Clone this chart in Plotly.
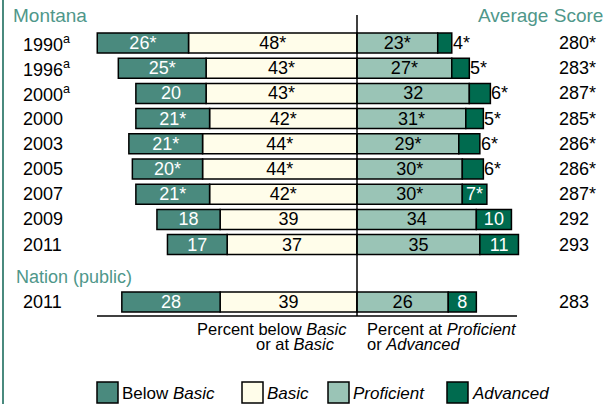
import plotly.graph_objects as go

# ---------------- data ----------------
years = ["1990<sup>a</sup>", "1996<sup>a</sup>", "2000<sup>a</sup>", "2000", "2003",
         "2005", "2007", "2009", "2011"]
below_basic = [26, 25, 20, 21, 21, 20, 21, 18, 17]
below_basic_lbl = ["26*", "25*", "20", "21*", "21*", "20*", "21*", "18", "17"]
basic = [48, 43, 43, 42, 44, 44, 42, 39, 37]
basic_lbl = ["48*", "43*", "43*", "42*", "44*", "44*", "42*", "39", "37"]
proficient = [23, 27, 32, 31, 29, 30, 30, 34, 35]
proficient_lbl = ["23*", "27*", "32", "31*", "29*", "30*", "30*", "34", "35"]
advanced = [4, 5, 6, 5, 6, 6, 7, 10, 11]
advanced_lbl = ["4*", "5*", "6*", "5*", "6*", "6*", "7*", "10", "11"]
avg_score = ["280*", "283*", "287*", "285*", "286*", "286*", "287*", "292", "293"]

nation_year = "2011"
nation_below_basic = 28
nation_basic = 39
nation_proficient = 26
nation_advanced = 8
nation_score = "283"

# ---------------- layout helpers ----------------
W, H = 611, 404
CENTER_PX = 357
PX_PER_PCT = 3.51
FONT = "Liberation Sans, Arial, sans-serif"
TEAL_TXT = "#4f978a"
C_BELOW = "#4a8a7e"
C_BASIC = "#fffdea"
C_PROF = "#9ac4b6"
C_ADV = "#006b4f"
NUM_SIZE = 18

row_y = [43 + 25.2 * i for i in range(len(years))] + [302]

all_years = years + [nation_year]
all_below = below_basic + [nation_below_basic]
all_below_lbl = below_basic_lbl + [str(nation_below_basic)]
all_basic = basic + [nation_basic]
all_basic_lbl = basic_lbl + [str(nation_basic)]
all_prof = proficient + [nation_proficient]
all_prof_lbl = proficient_lbl + [str(nation_proficient)]
all_adv = advanced + [nation_advanced]
all_adv_lbl = advanced_lbl + [str(nation_advanced)]
all_score = avg_score + [nation_score]

in_idx = [i for i, v in enumerate(all_adv) if v >= 7]
out_idx = [i for i, v in enumerate(all_adv) if v < 7]

line = dict(color="black", width=1.5)
BW = 20

def px(p):
    return p / W

fig = go.Figure()

def add_bar(ys, vals, labels, color, txtcolor):
    if labels is not None:
        kw = dict(text=labels, textposition="inside", insidetextanchor="middle",
                  textangle=0,
                  insidetextfont=dict(color=txtcolor, size=NUM_SIZE, family=FONT))
    else:
        kw = dict(textposition="none")
    fig.add_trace(go.Bar(
        y=ys, x=vals, orientation="h", width=BW,
        marker=dict(color=color, line=line), hoverinfo="skip", **kw))

add_bar(row_y, [-v for v in all_basic], all_basic_lbl, C_BASIC, "black")
add_bar(row_y, [-v for v in all_below], all_below_lbl, C_BELOW, "white")
add_bar(row_y, all_prof, all_prof_lbl, C_PROF, "black")
# Advanced: labelled inside where wide enough, label outside otherwise
add_bar([row_y[i] for i in in_idx], [all_adv[i] for i in in_idx],
        [all_adv_lbl[i] for i in in_idx], C_ADV, "white")
add_bar([row_y[i] for i in out_idx], [all_adv[i] for i in out_idx], None, C_ADV, "white")

annotations = []

# outside labels for the narrow Advanced segments (placed at the bar end on the x scale)
for i in out_idx:
    annotations.append(dict(x=all_prof[i] + all_adv[i], y=row_y[i], xref="x", yref="y",
                            text=all_adv_lbl[i], xanchor="left", yanchor="middle",
                            xshift=0, showarrow=False, borderpad=0,
                            font=dict(size=NUM_SIZE, family=FONT, color="black")))

def txt(x, y, t, anchor="left", color="black", size=17):
    annotations.append(dict(x=px(x), y=y, xref="paper", yref="y", text=t,
                            xanchor=anchor, yanchor="middle", showarrow=False,
                            borderpad=0,
                            font=dict(size=size, family=FONT, color=color)))

for y, lbl, sc in zip(row_y, all_years, all_score):
    txt(22, y, lbl, size=18)
    txt(558, y, sc, size=18)

txt(12, 15, "Montana", color=TEAL_TXT, size=19)
txt(604, 15, "Average Score", anchor="right", color=TEAL_TXT, size=19)
txt(15, 277, "Nation (public)", color=TEAL_TXT, size=18)
txt(348, 329, "Percent below <i>Basic</i>", anchor="right", size=16.5)
txt(336, 344, "or at <i>Basic</i>", anchor="right", size=16.5)
txt(366, 329, "Percent at <i>Proficient</i>", size=16.5)
txt(366, 344, "or <i>Advanced</i>", size=16.5)

shapes = [
    dict(type="line", xref="x", yref="y", x0=0, x1=0, y0=15, y1=316,
         line=dict(color="black", width=1.5)),
    dict(type="line", xref="paper", yref="y", x0=px(97), x1=px(517), y0=316, y1=316,
         line=dict(color="black", width=1.5)),
    dict(type="line", xref="paper", yref="paper", x0=px(3), x1=px(3), y0=0, y1=1,
         line=dict(color=C_BELOW, width=2)),
]

legend_items = [("Below <i>Basic</i>", C_BELOW, 97), ("<i>Basic</i>", C_BASIC, 242),
                ("<i>Proficient</i>", C_PROF, 328), ("<i>Advanced</i>", C_ADV, 447)]
for name, col, x0 in legend_items:
    shapes.append(dict(type="rect", xref="paper", yref="y", x0=px(x0), x1=px(x0 + 21),
                       y0=382, y1=403, fillcolor=col, line=dict(color="black", width=1.5)))
    txt(x0 + 24, 393, name, size=17)

fig.update_layout(
    width=W, height=H, margin=dict(l=0, r=0, t=0, b=0),
    barmode="relative", showlegend=False,
    paper_bgcolor="white", plot_bgcolor="white",
    xaxis=dict(range=[-CENTER_PX / PX_PER_PCT, (W - CENTER_PX) / PX_PER_PCT],
               visible=False, fixedrange=True),
    yaxis=dict(range=[H, 0], visible=False, fixedrange=True),
    uniformtext=dict(minsize=NUM_SIZE, mode="show"),
    annotations=annotations, shapes=shapes,
    font=dict(family=FONT),
)

fig.write_html("out.html", config={"displayModeBar": False},
               post_script="document.body.style.margin='0';document.body.style.overflow='hidden';")
